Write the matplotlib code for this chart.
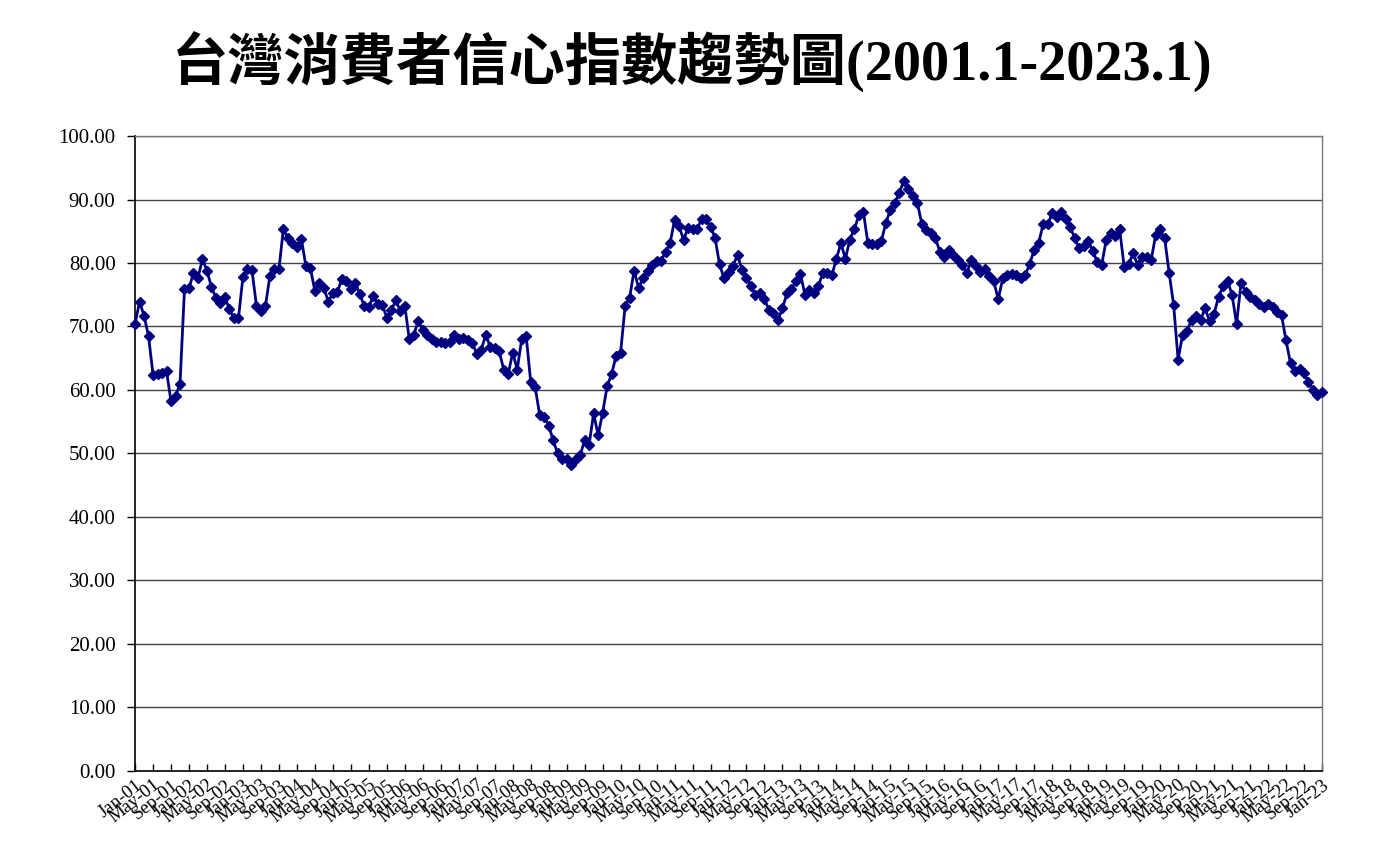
import numpy as np
import matplotlib
matplotlib.use("Agg")
import matplotlib.pyplot as plt
from matplotlib.ticker import FormatStrFormatter

# monthly consumer confidence index, Jan 2001 .. Jan 2023
cci_2001_2004 = [70.4, 73.9, 71.7, 68.5, 62.4, 62.5, 62.6, 63.0, 58.2, 59.1, 60.9, 75.9,
                 76.0, 78.4, 77.7, 80.6, 78.8, 76.2, 74.5, 73.7, 74.6, 72.7, 71.3, 71.3,
                 77.8, 79.1, 78.9, 73.3, 72.4, 73.2, 78.0, 79.1, 79.0, 85.4, 83.9, 83.2,
                 82.5, 83.8, 79.5, 79.2, 75.6, 76.9, 76.1, 73.9]
cci_2004_2006 = [75.3, 75.4, 77.5, 77.1, 75.9, 76.9, 75.1, 73.2, 73.1, 74.8, 73.6,
                 73.4, 71.4, 72.6, 74.1, 72.5, 73.3, 68.0, 68.7, 70.9, 69.5, 68.7]
cci_2006_2008 = [68.0, 67.6, 67.5, 67.4, 67.5, 68.7, 68.0, 68.2, 67.8, 67.4, 65.7, 66.3,
                 68.7, 66.8, 66.6, 66.1, 63.2, 62.5, 65.9, 63.2, 68.0, 68.5, 61.3, 60.4]
cci_2008_2011 = [56.1, 55.8, 54.4, 52.1, 50.0, 49.2, 49.1, 48.2, 49.1, 49.7, 52.1, 51.4,
                 56.3, 52.9, 56.4, 60.6, 62.5, 65.4, 65.9, 73.2, 74.5, 78.8, 76.1, 77.6,
                 78.7, 79.7, 80.3, 80.3, 81.8, 83.1, 86.8, 85.8, 83.7, 85.5, 85.4, 85.3]
cci_2011_2014 = [86.9, 86.9, 85.7, 84.0, 79.8, 77.6, 78.6, 79.5, 81.3, 78.9, 77.7, 76.3,
                 75.0, 75.2, 74.3, 72.6, 72.1, 71.0, 72.9, 75.2, 75.9, 77.2, 78.3, 75.0,
                 75.8, 75.2, 76.4, 78.5, 78.4, 78.1, 80.7, 83.1, 80.7, 83.7, 85.4, 87.5,
                 88.1, 83.1, 83.0, 83.0, 83.5, 86.3, 88.4]
cci_2015_2018 = [89.4, 91.1, 92.9, 91.6, 90.5, 89.5, 86.1, 85.2, 84.7, 84.0, 81.8, 80.9,
                 82.1, 81.3, 80.5, 79.7, 78.4, 80.4, 79.5, 78.6, 79.0, 77.9, 77.1, 74.3,
                 77.6, 78.1, 78.3, 78.1, 77.7, 78.1, 79.9, 82.1, 83.2, 86.2, 86.1, 87.8,
                 87.3, 88.1, 87.0, 85.7]
cci_2018_2023 = [83.9, 82.3, 82.7, 83.5, 81.9, 80.2, 79.7, 83.6, 84.7, 84.2, 85.3, 79.4,
                 79.8, 81.5, 79.7, 81.0, 80.9, 80.4, 84.4, 85.3, 83.9, 78.5, 73.4, 64.8,
                 68.7, 69.3, 71.1, 71.6, 71.0, 72.9, 70.8, 72.0, 74.7, 76.3, 77.2, 75.0,
                 70.4, 76.9, 75.5, 74.7, 74.2, 73.5, 73.0, 73.6, 73.1, 72.3, 71.8, 67.8,
                 64.2, 63.0, 63.3, 62.6, 61.3, 60.0, 59.2, 59.7]

cci = (cci_2001_2004 + cci_2004_2006 + cci_2006_2008 + cci_2008_2011
       + cci_2011_2014 + cci_2015_2018 + cci_2018_2023)

month_names = ["Jan", "May", "Sep"]
years = list(range(2001, 2024))
tick_labels = [f"{m}-{y % 100:02d}" for y in years for m in month_names][:67]

title = "台灣消費者信心指數趨勢圖(2001.1-2023.1)"

serif = ["Liberation Serif", "DejaVu Serif"]
plt.rcParams["font.family"] = serif

fig = plt.figure(figsize=(13.85, 8.68), dpi=100)
ax = fig.add_axes([0.0975, 0.1118, 0.857, 0.7315])

x = np.arange(len(cci))
ax.plot(x, cci, color="#000080", lw=2, marker="D", markersize=5.5,
        markerfacecolor="#000080", markeredgecolor="#000080", clip_on=False, zorder=3)

ax.set_xlim(0, len(cci) - 1)
ax.set_ylim(0, 100)
ax.set_yticks(np.arange(0, 101, 10))
ax.yaxis.set_major_formatter(FormatStrFormatter("%.2f"))
ax.grid(axis="y", color="#444444", lw=1)
ax.set_axisbelow(True)

ticks = np.arange(0, len(cci), 4)
ax.set_xticks(ticks)
ax.set_xticklabels(tick_labels[:len(ticks)], rotation=38, ha="right", va="top",
                   rotation_mode="anchor", fontsize=13.5)
ax.tick_params(axis="x", direction="in", length=5, width=1, pad=4)
ax.tick_params(axis="y", direction="out", length=6, width=1, labelsize=15, pad=8)

for side in ["top", "right"]:
    ax.spines[side].set_color("#777777")
    ax.spines[side].set_linewidth(1)
for side in ["left", "bottom"]:
    ax.spines[side].set_color("black")
    ax.spines[side].set_linewidth(1.2)

fig.text(0.5, 0.928, title, ha="center", va="center", fontsize=40.5, fontweight="bold",
         family=["Liberation Serif", "Noto Sans CJK TC"])

fig.savefig("out.png", dpi=100)
